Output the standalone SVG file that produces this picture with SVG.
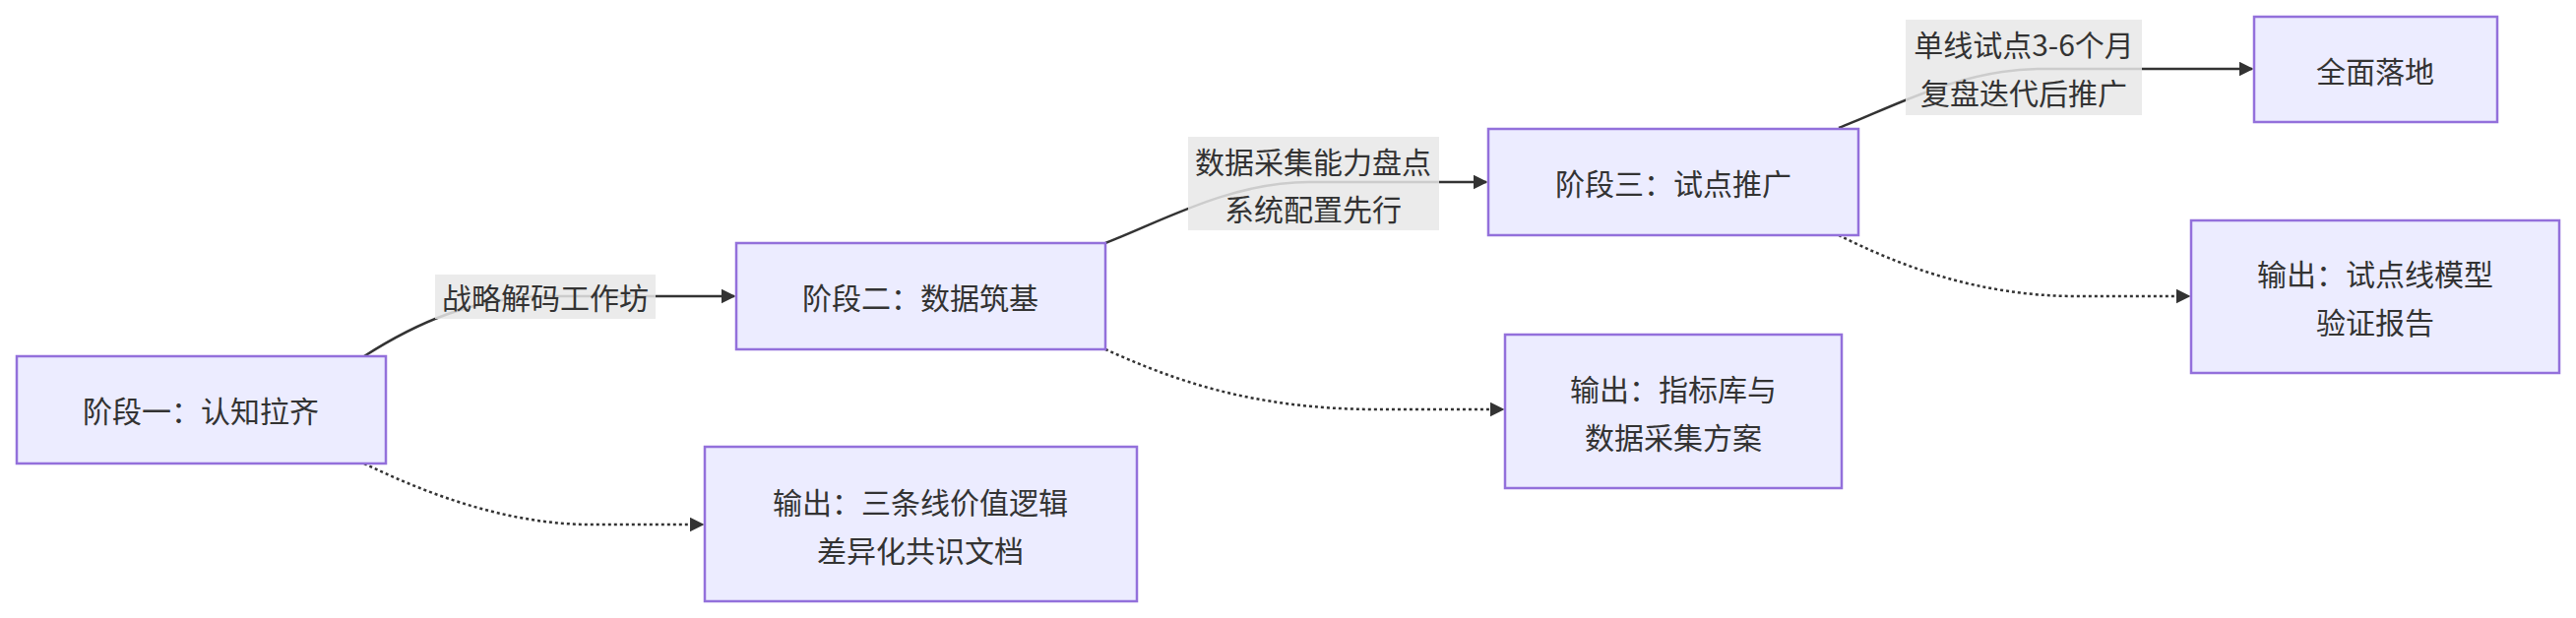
<svg xmlns="http://www.w3.org/2000/svg" width="2617" height="628" viewBox="0 0 2617 628">
<style>
.n{fill:#ECECFF;stroke:#9370DB;stroke-width:2.5}
.t{font-family:"Noto Sans CJK SC","Liberation Sans",sans-serif;font-size:30px;fill:#333;text-anchor:middle;dominant-baseline:central}
.e{fill:none;stroke:#333;stroke-width:2.5}
.d{stroke-dasharray:3 3}
.lb{fill:#e8e8e8;opacity:0.85}
</style>
<defs><marker id="a" viewBox="0 0 10 10" refX="9" refY="5" markerWidth="6" markerHeight="6" orient="auto" markerUnits="strokeWidth"><path d="M0,0L10,5L0,10z" fill="#333"/></marker></defs>
<rect width="2617" height="628" fill="#fff"/>
<g id="edges">
<path class="e" d="M370,362 C420,330 480,301 560,301 L746,301" marker-end="url(#a)"/>
<path class="e d" d="M370,471 C440,505 520,533 600,533 L714,533" marker-end="url(#a)"/>
<path class="e" d="M1123,247 C1180,225 1250,185 1330,185 L1510,185" marker-end="url(#a)"/>
<path class="e d" d="M1123,355 C1190,385 1270,416 1400,416 L1527,416" marker-end="url(#a)"/>
<path class="e" d="M1868,130 C1920,110 1990,71 2070,70 L2288,70" marker-end="url(#a)"/>
<path class="e d" d="M1868,239 C1930,270 2010,301 2110,301 L2224,301" marker-end="url(#a)"/>
</g>
<g id="labels">
<rect class="lb" x="442" y="279" width="224" height="45"/><text class="t" x="554" y="301">战略解码工作坊</text>
<rect class="lb" x="1207" y="139" width="255" height="95"/><text class="t" x="1334" y="163">数据采集能力盘点</text><text class="t" x="1334" y="211">系统配置先行</text>
<rect class="lb" x="1936" y="20" width="240" height="97"/><text class="t" x="2056" y="44">单线试点3-6个月</text><text class="t" x="2056" y="93">复盘迭代后推广</text>
</g>
<g id="n1"><rect class="n" x="17" y="362" width="375" height="109"/><text class="t" x="204" y="416">阶段一：认知拉齐</text></g>
<g id="n2"><rect class="n" x="748" y="247" width="375" height="108"/><text class="t" x="935" y="301">阶段二：数据筑基</text></g>
<g id="o1"><rect class="n" x="716" y="454" width="439" height="157"/><text class="t" x="935" y="509">输出：三条线价值逻辑</text><text class="t" x="935" y="558">差异化共识文档</text></g>
<g id="n3"><rect class="n" x="1512" y="131" width="376" height="108"/><text class="t" x="1700" y="185">阶段三：试点推广</text></g>
<g id="o2"><rect class="n" x="1529" y="340" width="342" height="156"/><text class="t" x="1700" y="394">输出：指标库与</text><text class="t" x="1700" y="443">数据采集方案</text></g>
<g id="n4"><rect class="n" x="2290" y="17" width="247" height="107"/><text class="t" x="2413" y="71">全面落地</text></g>
<g id="o3"><rect class="n" x="2226" y="224" width="374" height="155"/><text class="t" x="2413" y="277">输出：试点线模型</text><text class="t" x="2413" y="326">验证报告</text></g>
</svg>
